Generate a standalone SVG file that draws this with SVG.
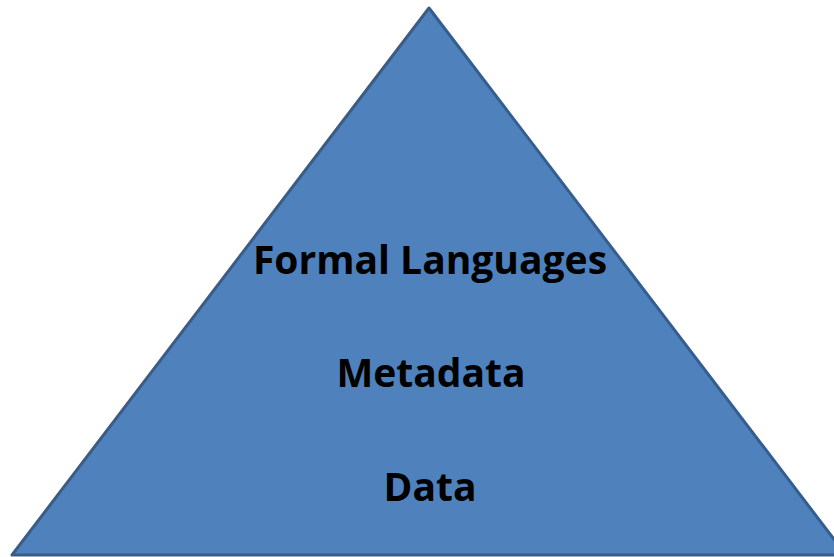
<svg xmlns="http://www.w3.org/2000/svg" width="834" height="557" viewBox="0 0 834 557">
  <style>
    .tri { fill: #4f81bd; stroke: #385d8a; stroke-width: 3; stroke-linejoin: round; }
    .lbl { font-family: "Open Sans", "Liberation Sans", sans-serif; font-weight: bold; font-size: 39px; fill: #000; text-anchor: middle; }
  </style>
  <rect width="834" height="557" fill="#ffffff"/>
  <g id="pyramid">
    <polygon class="tri" points="429,8 12,555 846,555"/>
  </g>
  <g id="connectors"></g>
  <g id="formal-languages">
    <text class="lbl" x="430" y="274">Formal Languages</text>
  </g>
  <g id="metadata">
    <text class="lbl" x="431" y="387">Metadata</text>
  </g>
  <g id="data">
    <text class="lbl" x="430" y="501">Data</text>
  </g>
</svg>
